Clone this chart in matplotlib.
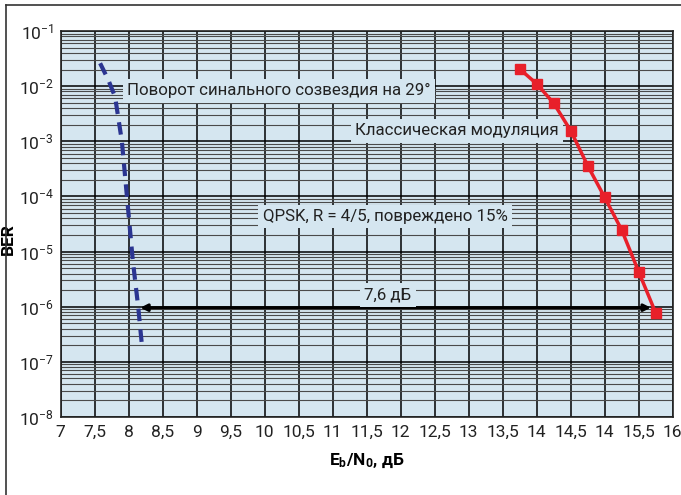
# BER vs Eb/N0 chart
import matplotlib
matplotlib.use("Agg")
import matplotlib.pyplot as plt
from matplotlib.lines import Line2D
from matplotlib.ticker import LogLocator, FixedLocator, NullFormatter

plt.rcParams['font.family'] = ['Roboto', 'DejaVu Sans']
plt.rcParams['mathtext.fontset'] = 'custom'
plt.rcParams['mathtext.rm'] = 'Roboto'
plt.rcParams['mathtext.bf'] = 'Roboto:bold'
plt.rcParams['mathtext.it'] = 'Roboto:italic'
plt.rcParams['axes.unicode_minus'] = False

# classic modulation (red)
classic_x = [13.75, 14.0, 14.25, 14.5, 14.75, 15.0, 15.25, 15.5, 15.75]
classic_ber = [2.05e-2, 1.1e-2, 4.9e-3, 1.56e-3, 3.6e-4, 9.6e-5, 2.46e-5, 4.3e-6, 7.7e-7]

# rotated constellation (blue dashed)
rotated_x = [7.58, 7.70, 7.80, 7.90, 7.975, 8.06, 8.14, 8.19]
rotated_ber = [2.6e-2, 1.3e-2, 6.4e-3, 1.0e-3, 9.8e-5, 7.0e-6, 9.9e-7, 2.3e-7]

x_ticks = [7, 7.5, 8, 8.5, 9, 9.5, 10, 10.5, 11, 11.5, 12, 12.5, 13, 13.5, 14, 14.5, 15, 15.5, 16]
x_labels = ['7', '7,5', '8', '8,5', '9', '9,5', '10', '10,5', '11', '11,5', '12', '12,5',
            '13', '13,5', '14', '14,5', '14', '15,5', '16']
y_ticks = [1e-1, 1e-2, 1e-3, 1e-4, 1e-5, 1e-6, 1e-7, 1e-8]
y_labels = [r'$10^{-1}$', r'$10^{-2}$', r'$10^{-3}$', r'$10^{-4}$',
            r'$10^{-5}$', r'$10^{-6}$', r'$10^{-7}$', r'$10^{-8}$']

gap_from, gap_to, gap_ber = 8.17, 15.68, 9.6e-7

bg = '#d5e6f0'
fig = plt.figure(figsize=(6.81, 4.95), dpi=100)
ax = fig.add_axes([0.0891, 0.1576, 0.8987, 0.7798])
ax.set_facecolor(bg)
ax.set_yscale('log')
ax.set_xlim(7, 16)
ax.set_ylim(1e-8, 1e-1)

ax.xaxis.set_major_locator(FixedLocator(x_ticks))
ax.set_xticklabels(x_labels)
ax.set_yticks(y_ticks)
ax.set_yticklabels(y_labels)
ax.yaxis.set_minor_locator(LogLocator(base=10, subs=range(2, 10), numticks=20))
ax.yaxis.set_minor_formatter(NullFormatter())
ax.tick_params(which='both', length=0, labelsize=12.5, colors='#222222')
ax.tick_params(axis='x', pad=6)
ax.tick_params(axis='y', pad=5)

ax.grid(True, which='major', color='black', lw=1.1, zorder=1)
ax.grid(True, which='minor', axis='y', color='#4a4a4a', lw=0.8, zorder=1)
ax.set_axisbelow(True)
for s in ax.spines.values():
    s.set_color('#222222')
    s.set_linewidth(1.2)

ax.plot(classic_x, classic_ber, color='#e8202a', lw=2.5, marker='s', ms=7,
        zorder=6)
ax.plot(rotated_x, rotated_ber, color='#2b3591', lw=3, ls=(0, (3, 2)), zorder=6)

ax.annotate('', xy=(gap_from, gap_ber), xytext=(gap_to, gap_ber),
            arrowprops=dict(arrowstyle='<|-|>', color='black', lw=2.2,
                            mutation_scale=10, shrinkA=0, shrinkB=0), zorder=3)

box = dict(facecolor=bg, edgecolor='none', pad=3)
ax.text(7.98, 8.2e-3, 'Поворот синального созвездия на 29°', fontsize=12.2,
        va='center', ha='left', bbox=box, zorder=5, color='#222222')
ax.text(11.33, 1.55e-3, 'Классическая модуляция', fontsize=12.2,
        va='center', ha='left', bbox=box, zorder=5, color='#222222')
ax.text(9.97, 4.3e-5, 'QPSK, R = 4/5, повреждено 15%', fontsize=12.2,
        va='center', ha='left', bbox=box, zorder=5, color='#222222')
ax.text(11.81, 1.63e-6, '7,6 дБ', fontsize=12.2,
        va='center', ha='center', bbox=box, zorder=5, color='#222222')

ax.set_xlabel(r'$\mathbf{E_b/N_0}$, дБ', fontsize=12.5, fontweight='bold',
              labelpad=8)
ax.set_ylabel('BER', fontsize=12.5, fontweight='bold')
ax.yaxis.set_label_coords(-0.074, 0.46)

# outer frame (left and top only visible)
fx = 6 / 681
fy = 1 - 5 / 495
fig.add_artist(Line2D([fx, fx], [0, fy], color='#333333', lw=1.2))
fig.add_artist(Line2D([fx, 1], [fy, fy], color='#333333', lw=1.2))

fig.savefig('out.png', dpi=100)
